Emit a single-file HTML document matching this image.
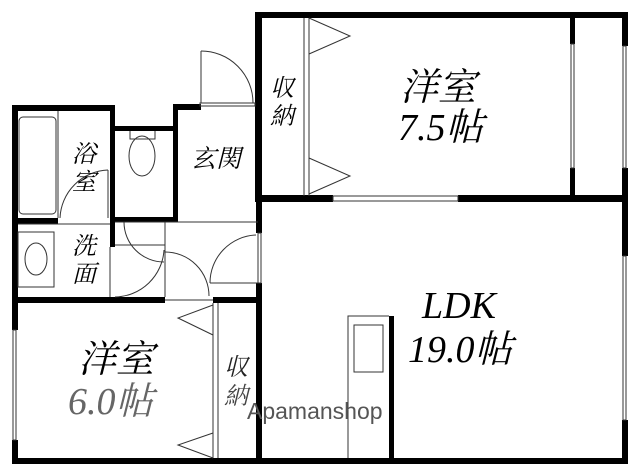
<!DOCTYPE html>
<html><head><meta charset="utf-8"><style>
html,body{margin:0;padding:0;background:#fff;width:640px;height:475px;overflow:hidden}
text{font-family:"Liberation Serif","Noto Serif CJK SC",serif;font-style:italic}
</style></head><body>
<svg width="640" height="475" viewBox="0 0 640 475" xmlns="http://www.w3.org/2000/svg">
<g fill="#000">
<rect x="255" y="12" width="373" height="6"/>
<rect x="255" y="12" width="7" height="190"/>
<rect x="622" y="12" width="6" height="34"/>
<rect x="622" y="168" width="6" height="34"/>
<rect x="570" y="12" width="5" height="32"/>
<rect x="570" y="168" width="5" height="32"/>
<rect x="255" y="195" width="78" height="7"/>
<rect x="458" y="195" width="170" height="7"/>
<rect x="622" y="196" width="6" height="60"/>
<rect x="622" y="420" width="6" height="44"/>
<rect x="12" y="458" width="616" height="6"/>
<rect x="256" y="196" width="6" height="37"/>
<rect x="256" y="283" width="6" height="181"/>
<rect x="389" y="316" width="5" height="146"/>
<rect x="12" y="105" width="6" height="225"/>
<rect x="12" y="440" width="6" height="22"/>
<rect x="12" y="105" width="103" height="6"/>
<rect x="110" y="105" width="5" height="142"/>
<rect x="110" y="126" width="68" height="5"/>
<rect x="173" y="104" width="5" height="118"/>
<rect x="173" y="104" width="28" height="6"/>
<rect x="12" y="218" width="46" height="6"/>
<rect x="115" y="217" width="63" height="5"/>
<rect x="12" y="297" width="153" height="6"/>
<rect x="213" y="297" width="47" height="6"/>
</g>
<g fill="none" stroke="#333" stroke-width="1">
<rect x="333" y="196" width="125" height="5"/>
<rect x="571" y="44" width="3" height="124"/>
<rect x="623" y="46" width="3" height="122"/>
<rect x="623" y="256" width="3" height="164"/>
<rect x="258" y="233" width="3" height="50"/>
<rect x="13" y="330" width="3" height="110"/>
<line x1="304" y1="18" x2="304" y2="196"/><line x1="309" y1="18" x2="309" y2="196"/>
<polyline points="309,18 350,36 309,54"/>
<polyline points="309,158 350,176 309,194"/>
<line x1="201" y1="51" x2="201" y2="103"/>
<path d="M201,51 A52,52 0 0 1 253,103"/>
<rect x="200" y="103" width="55" height="3"/>
<rect x="19" y="117" width="37" height="97" rx="4"/>
<line x1="58" y1="111" x2="58" y2="218"/>
<line x1="108" y1="170" x2="108" y2="218"/>
<path d="M108,170 A50,50 0 0 0 60,218"/>
<polyline points="130,131 130,139 155,139 155,131"/>
<ellipse cx="142" cy="156" rx="13" ry="20"/>
<rect x="18" y="232" width="36" height="55"/>
<ellipse cx="36" cy="259" rx="11" ry="16"/>
<line x1="18" y1="224" x2="110" y2="224"/>
<line x1="110" y1="247" x2="110" y2="297"/>
<line x1="115" y1="222" x2="258" y2="222"/>
<line x1="115" y1="245" x2="165" y2="245"/>
<line x1="165" y1="222" x2="165" y2="297"/>
<path d="M124,222 A40,40 0 0 0 164,262"/>
<path d="M115,297 A50,50 0 0 0 164,250"/>
<line x1="210" y1="283" x2="258" y2="283"/>
<path d="M256,235 A48,48 0 0 0 210,283"/>
<path d="M165,252 A44,44 0 0 1 209,296"/>
<line x1="165" y1="300" x2="213" y2="300"/>
<line x1="213" y1="303" x2="213" y2="458"/><line x1="218" y1="303" x2="218" y2="458"/>
<polyline points="213,305 178,318 213,335"/>
<polyline points="213,433 178,445 213,458"/>
<polyline points="348,458 348,316 389,316"/>
<rect x="354" y="325" width="29" height="47"/>
</g>
<g font-size="38" fill="#000">
<text x="400" y="100">洋室</text>
<text x="398" y="140">7.5帖</text>
<text x="422" y="318">LDK</text>
<text x="408" y="362">19.0帖</text>
<text x="78" y="372">洋室</text>
<text x="68" y="414" fill="#666">6.0帖</text>
</g>
<g font-size="24" fill="#000">
<text x="270" y="96">収</text><text x="270" y="124">納</text>
<text x="72" y="162">浴</text><text x="72" y="190">室</text>
<text x="191" y="167" font-size="25">玄関</text>
<text x="72" y="254">洗</text><text x="72" y="282">面</text>
<text x="224" y="375" fill="#222">収</text><text x="224" y="404" fill="#444">納</text>
</g>
<text x="247" y="419" font-size="23" fill="#555" style="font-family:'Liberation Sans',sans-serif;font-style:normal">Apamanshop</text>
</svg>
</body></html>
